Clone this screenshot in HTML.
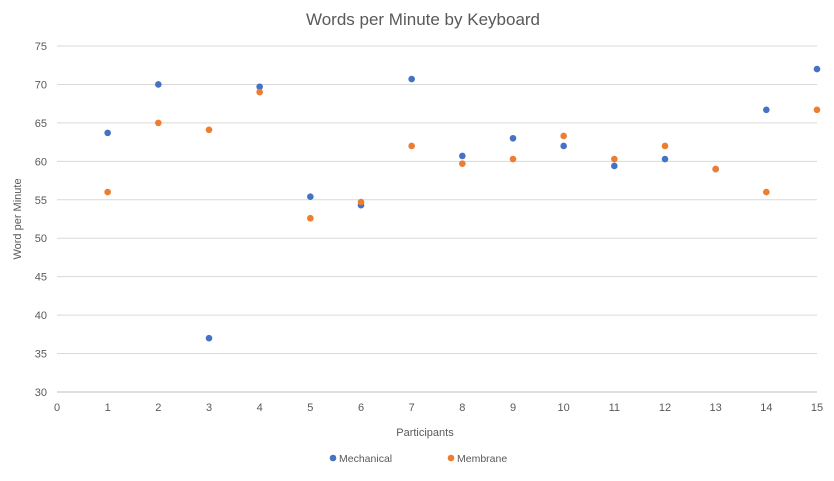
<!DOCTYPE html>
<html><head><meta charset="utf-8"><style>
body{margin:0;background:#fff;}
svg text{font-family:"Liberation Sans",sans-serif;fill:#595959;}
</style></head><body>
<svg id="chart" width="834" height="476" xmlns="http://www.w3.org/2000/svg">
<rect width="834" height="476" fill="#fff"/>
<text x="423" y="25" font-size="17" text-anchor="middle">Words per Minute by Keyboard</text>
<g id="grid"></g><g id="xt"></g><g id="yt"></g><g id="pts"></g>
<text x="425" y="436" font-size="11" text-anchor="middle">Participants</text>
<text transform="translate(21,219) rotate(-90)" font-size="11" text-anchor="middle">Word per Minute</text>
<g><circle cx="333" cy="458" r="3.3" fill="#4472c4"/><text x="339" y="462" font-size="10.5">Mechanical</text></g>
<g><circle cx="451" cy="458" r="3.3" fill="#ed7d31"/><text x="457" y="462" font-size="10.5">Membrane</text></g>
</svg>
<script>
const participants=[1,2,3,4,5,6,7,8,9,10,11,12,13,14,15];
const mechanical=[63.7,70,37,69.7,55.4,54.3,70.7,60.7,63,62,59.4,60.3,59,66.7,72];
const membrane=[56,65,64.1,69,52.6,54.7,62,59.7,60.3,63.3,60.3,62,59,56,66.7];
const xTicks=[0,1,2,3,4,5,6,7,8,9,10,11,12,13,14,15];
const yTicks=[30,35,40,45,50,55,60,65,70,75];
const NS="http://www.w3.org/2000/svg";
const X=v=>57+v*(817-57)/15;
const Y=v=>392-(v-30)*(392-46)/45;
function mk(t,a,p){const e=document.createElementNS(NS,t);for(const k in a)e.setAttribute(k,a[k]);p.appendChild(e);return e;}
const grid=document.getElementById('grid'),xt=document.getElementById('xt'),yt=document.getElementById('yt'),pts=document.getElementById('pts');
yTicks.forEach(v=>{
const l=mk('line',{x1:57,x2:817,y1:Y(v),y2:Y(v),stroke:v===30?'#bfbfbf':'#d9d9d9','stroke-width':1},grid);


const t=mk('text',{x:47,y:Y(v)+4,'font-size':11,'text-anchor':'end'},yt);t.textContent=v;


});
xTicks.forEach(v=>{
const t=mk('text',{x:X(v),y:411,'font-size':11,'text-anchor':'middle'},xt);t.textContent=v;


});
participants.forEach((p,i)=>{
const c=mk('circle',{cx:X(p),cy:Y(mechanical[i]),r:3.3,fill:'#4472c4'},pts);


});
participants.forEach((p,i)=>{
const c=mk('circle',{cx:X(p),cy:Y(membrane[i]),r:3.3,fill:'#ed7d31'},pts);


});
</script>
</body></html>
